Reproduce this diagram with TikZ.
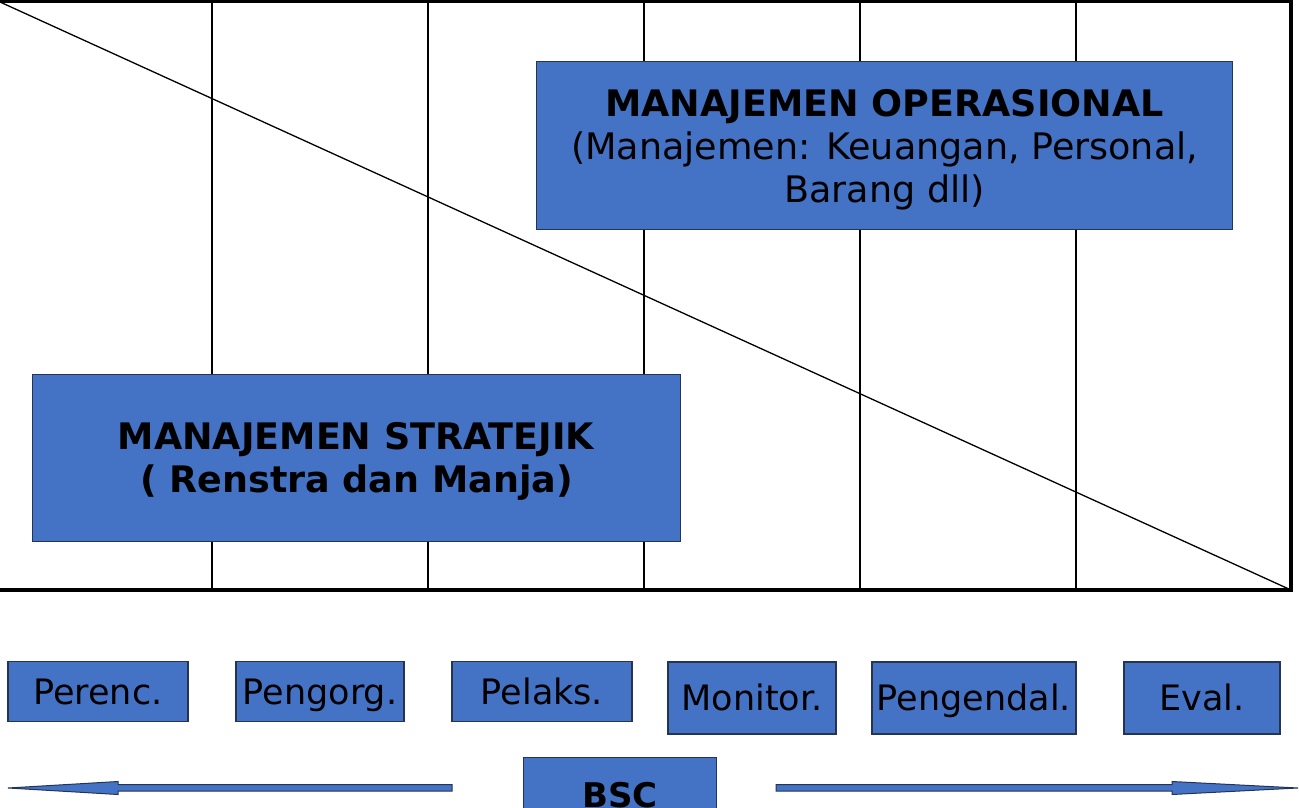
\documentclass[tikz,border=0pt]{standalone}
\usepackage{fontspec}
\setmainfont{DejaVu Sans}
\definecolor{boxblue}{RGB}{68,114,196}
\definecolor{boxline}{RGB}{38,52,84}
\begin{document}
\begin{tikzpicture}[x=1pt,y=-1pt,
  bluebox/.style={draw=boxline,fill=boxblue,line width=1.2pt,inner sep=0pt,anchor=north west},
  bigtext/.style={font=\fontsize{36.5}{43}\selectfont,align=center},
  smalltext/.style={font=\fontsize{35}{40}\selectfont,text height=25.5pt,text depth=0pt},
  gridline/.style={line width=1.8pt,black},
  blockarrow/.style={draw=boxline,fill=boxblue,line width=1pt,line join=miter}]
\useasboundingbox (0,0) rectangle (1299,808);
\clip (0,0) rectangle (1299,808);
% frame, columns and diagonal
\coordinate (tl) at (-5,1.5);
\coordinate (br) at (1291,590);
\foreach \i/\x in {1/212,2/428,3/644,4/860,5/1076}{
  \coordinate (t\i) at (\x,1.5);
  \coordinate (b\i) at (\x,590);
  \draw[gridline] (t\i) -- (b\i);
}
\coordinate (dstart) at (0,2);
\draw[line width=1.3pt] (dstart) -- (br);
\draw[line width=4pt] (tl) rectangle (br);
% big boxes
\node[bluebox,minimum width=696pt,minimum height=168pt] (ops) at (536,61) {};
\node[bigtext,yshift=-4pt] (opstext) at (ops.center) {\textbf{MANAJEMEN OPERASIONAL}\\(Manajemen: Keuangan, Personal,\\Barang dll)};
\node[bluebox,minimum width=648pt,minimum height=167pt] (str) at (32,374) {};
\node[bigtext,yshift=-3pt] (strtext) at (str.center) {\textbf{MANAJEMEN STRATEJIK}\\\textbf{( Renstra dan Manja)}};
% function boxes
\node[bluebox,smalltext,minimum width=180pt,minimum height=60pt,anchor=center] (p1) at (98,691.5) {Perenc.};
\node[bluebox,smalltext,minimum width=168pt,minimum height=60pt,anchor=center] (p2) at (320,691.5) {Pengorg.};
\node[bluebox,smalltext,minimum width=180pt,minimum height=60pt,anchor=center] (p3) at (542,691.5) {Pelaks.};
\node[bluebox,smalltext,minimum width=168pt,minimum height=72pt,anchor=center] (p4) at (752,698) {Monitor.};
\node[bluebox,smalltext,minimum width=204pt,minimum height=72pt,anchor=center] (p5) at (974,698) {Pengendal.};
\node[bluebox,smalltext,minimum width=156pt,minimum height=72pt,anchor=center] (p6) at (1202,698) {Eval.};
% BSC
\node[bluebox,minimum width=193pt,minimum height=80pt] (bsc) at (523,757) {};
\node[font=\fontsize{34}{40}\selectfont\bfseries,anchor=base] (bsctext) at (620,807) {BSC};
% block arrows
\draw[blockarrow] (8,788) -- (118,781.5) -- (118,784.5) -- (452,784.5) -- (452,791) -- (118,791) -- (118,794.5) -- cycle;
\draw[blockarrow] (1298,788) -- (1172,794.5) -- (1172,791) -- (776,791) -- (776,784.5) -- (1172,784.5) -- (1172,781.5) -- cycle;
\end{tikzpicture}
\end{document}
